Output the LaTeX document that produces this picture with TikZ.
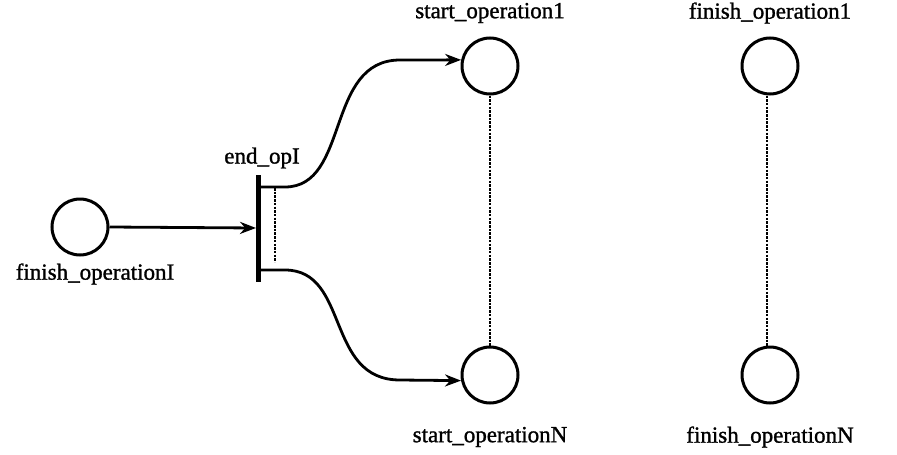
\documentclass[tikz,border=0pt]{standalone}
\usepackage{fontspec}
\setmainfont{Liberation Serif}[FakeBold=1.2]
\usetikzlibrary{arrows.meta}
\begin{document}
\begin{tikzpicture}[x=1pt,y=-1pt,
  place/.style={circle,draw,line width=3pt,minimum size=56pt,inner sep=0pt},
  lbl/.style={font=\fontsize{23}{26}\selectfont,inner sep=0pt},
  arc/.style={line width=2.8pt,-{Stealth[length=16pt,width=12pt]}},
  link/.style={line width=2.4pt,dash pattern=on 2.5pt off 1.2pt},
  trans/.style={draw,fill=black,minimum width=3.5pt,minimum height=106pt,inner sep=0pt}
]
\useasboundingbox (0,0) rectangle (897,455);

% places
\node[place] (fI) at (80,227) {};
\node[place] (s1) at (490,66) {};
\node[place] (sN) at (490,375) {};
\node[place] (f1) at (770,66) {};
\node[place] (fN) at (770,375) {};

% transition bar
\node[trans] (endop) at (258,228) {};

% labels
\node[lbl] (lfI) at (95,274) {finish\_operationI};
\node[lbl] (lend) at (262,158) {end\_opI};
\node[lbl] (ls1) at (490,13) {start\_operation1};
\node[lbl] (lsN) at (490,437) {start\_operationN};
\node[lbl] (lf1) at (770,13) {finish\_operation1};
\node[lbl] (lfN) at (770,437) {finish\_operationN};

% arcs
\draw[arc] (fI.east) -- (endop.west);
\draw[arc] ([yshift=41pt]endop.east) -- ++(25,0)
  .. controls (350,187) and (325,60) .. (400,60) -- (s1.168);
\draw[arc] ([yshift=-42pt]endop.east) -- ++(25,0)
  .. controls (350,270) and (325,380) .. (400,380) -- (sN.191);

% dotted ranges
\draw[link] ([xshift=17pt,yshift=40pt]endop.center) -- ([xshift=17pt,yshift=-34pt]endop.center);
\draw[link] (s1.south) -- (sN.north);
\draw[link] ([xshift=-3pt]f1.south) -- ([xshift=-3pt]fN.north);
\end{tikzpicture}
\end{document}
